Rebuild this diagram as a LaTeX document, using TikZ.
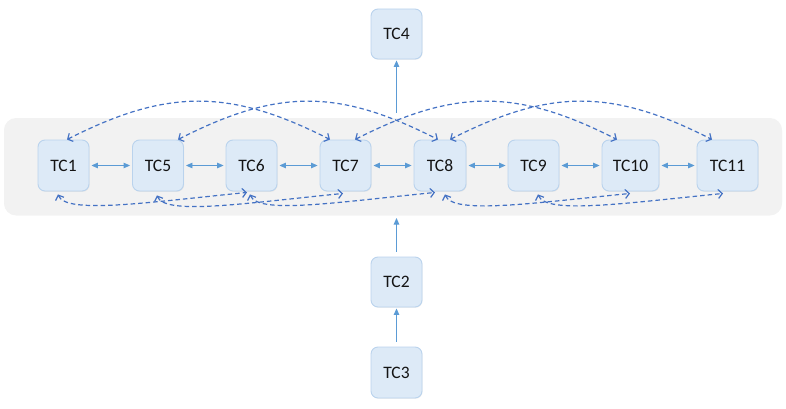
\documentclass[tikz,border=0pt]{standalone}
\usepackage{fontspec}
\setmainfont{Carlito}
\usetikzlibrary{arrows.meta,shadows}
\definecolor{boxfill}{RGB}{221,234,247}
\definecolor{boxline}{RGB}{186,211,237}
\definecolor{solidarr}{RGB}{91,155,213}
\definecolor{dasharr}{RGB}{68,114,196}
\definecolor{bggrey}{RGB}{242,242,242}
\definecolor{txt}{RGB}{20,20,20}
\begin{document}
\begin{tikzpicture}[x=1pt,y=-1pt,
  tcbox/.style={draw=boxline, fill=boxfill, line width=0.9pt, rounded corners=7pt,
    minimum width=51pt, minimum height=51pt, inner sep=0pt, text=txt,
    font=\fontsize{17.5}{20}\selectfont,
    drop shadow={opacity=0.12, shadow xshift=0.6pt, shadow yshift=-0.8pt}},
  bgbox/.style={fill=bggrey, rounded corners=12pt, inner sep=0pt,
    drop shadow={opacity=0.10, shadow xshift=0pt, shadow yshift=-1.5pt}},
  harrow/.style={draw=solidarr, line width=0.9pt,
    {Triangle[length=6.5pt,width=5.5pt]}-{Triangle[length=6.5pt,width=5.5pt]},
    shorten <=2pt, shorten >=2pt},
  varrow/.style={draw=solidarr, line width=0.9pt, -{Triangle[length=6.5pt,width=5.5pt]}},
  darc/.style={draw=dasharr, line width=1.2pt, dash pattern=on 4.5pt off 3pt,
    {Straight Barb[length=4pt,width=9pt]}-{Straight Barb[length=4pt,width=9pt]}}
]
\useasboundingbox (0,0) rectangle (786,409);

% group background
\node[bgbox, minimum width=778pt, minimum height=96pt] (grp) at (393,166) {};

% nodes
\node[tcbox] (TC1) at (63.5,165.5) {TC1};
\node[tcbox] (TC5) at (158,165.5) {TC5};
\node[tcbox] (TC6) at (251.5,165.5) {TC6};
\node[tcbox] (TC7) at (345.5,165.5) {TC7};
\node[tcbox, minimum width=52pt] (TC8) at (440,165.5) {TC8};
\node[tcbox] (TC9) at (533.5,165.5) {TC9};
\node[tcbox, minimum width=57pt] (TC10) at (630.5,165.5) {TC10};
\node[tcbox, minimum width=61pt] (TC11) at (727.5,165.5) {TC11};
\node[tcbox, minimum height=50pt] (TC4) at (396.5,34) {TC4};
\node[tcbox, minimum height=50pt] (TC2) at (396.5,282) {TC2};
\node[tcbox] (TC3) at (396.5,372.5) {TC3};

\coordinate (upstart) at (396.5,113);
\coordinate (upend) at (396.5,218);

% vertical arrows
\draw[varrow, shorten >=1pt] (upstart) -- (TC4.south);
\draw[varrow] ([yshift=5pt]TC2.north) -- (upend);
\draw[varrow] ([yshift=5pt]TC3.north) -- ([yshift=-1pt]TC2.south);

% horizontal arrows
\draw[harrow] (TC1) -- (TC5);
\draw[harrow] (TC5) -- (TC6);
\draw[harrow] (TC6) -- (TC7);
\draw[harrow] (TC7) -- (TC8);
\draw[harrow] (TC8) -- (TC9);
\draw[harrow] (TC9) -- (TC10);
\draw[harrow] (TC10) -- (TC11);

% top dashed arcs
\draw[darc] ([xshift=3.5pt]TC1.north) .. controls +(100,-51) and +(-100,-51) .. ([xshift=-15.5pt]TC7.north);
\draw[darc] ([xshift=20pt]TC5.north) .. controls +(100,-51) and +(-100,-51) .. ([xshift=-2pt]TC8.north);
\draw[darc] ([xshift=9.5pt]TC7.north) .. controls +(100,-51) and +(-100,-51) .. ([xshift=-13.5pt]TC10.north);
\draw[darc] ([xshift=10pt]TC8.north) .. controls +(100,-51) and +(-100,-51) .. ([xshift=-15.5pt]TC11.north);

% bottom dashed curves
\draw[darc] ([xshift=-5.5pt,yshift=-3pt]TC1.south) .. controls +(8,20) and +(-100,10) .. ([xshift=-4.5pt,yshift=-1pt]TC6.south);
\draw[darc] ([xshift=-1pt,yshift=-4pt]TC5.south) .. controls +(8,20) and +(-100,10) .. ([xshift=-2.5pt,yshift=-2pt]TC7.south);
\draw[darc] ([xshift=-1.5pt,yshift=-3pt]TC6.south) .. controls +(8,20) and +(-100,10) .. ([xshift=-5pt,yshift=-1pt]TC8.south);
\draw[darc] ([xshift=5pt,yshift=-3pt]TC8.south) .. controls +(8,20) and +(-100,10) .. ([xshift=-0.5pt,yshift=-2pt]TC10.south);
\draw[darc] ([xshift=4.5pt,yshift=-3pt]TC9.south) .. controls +(8,20) and +(-100,10) .. ([xshift=-4.5pt,yshift=-2pt]TC11.south);
\end{tikzpicture}
\end{document}
